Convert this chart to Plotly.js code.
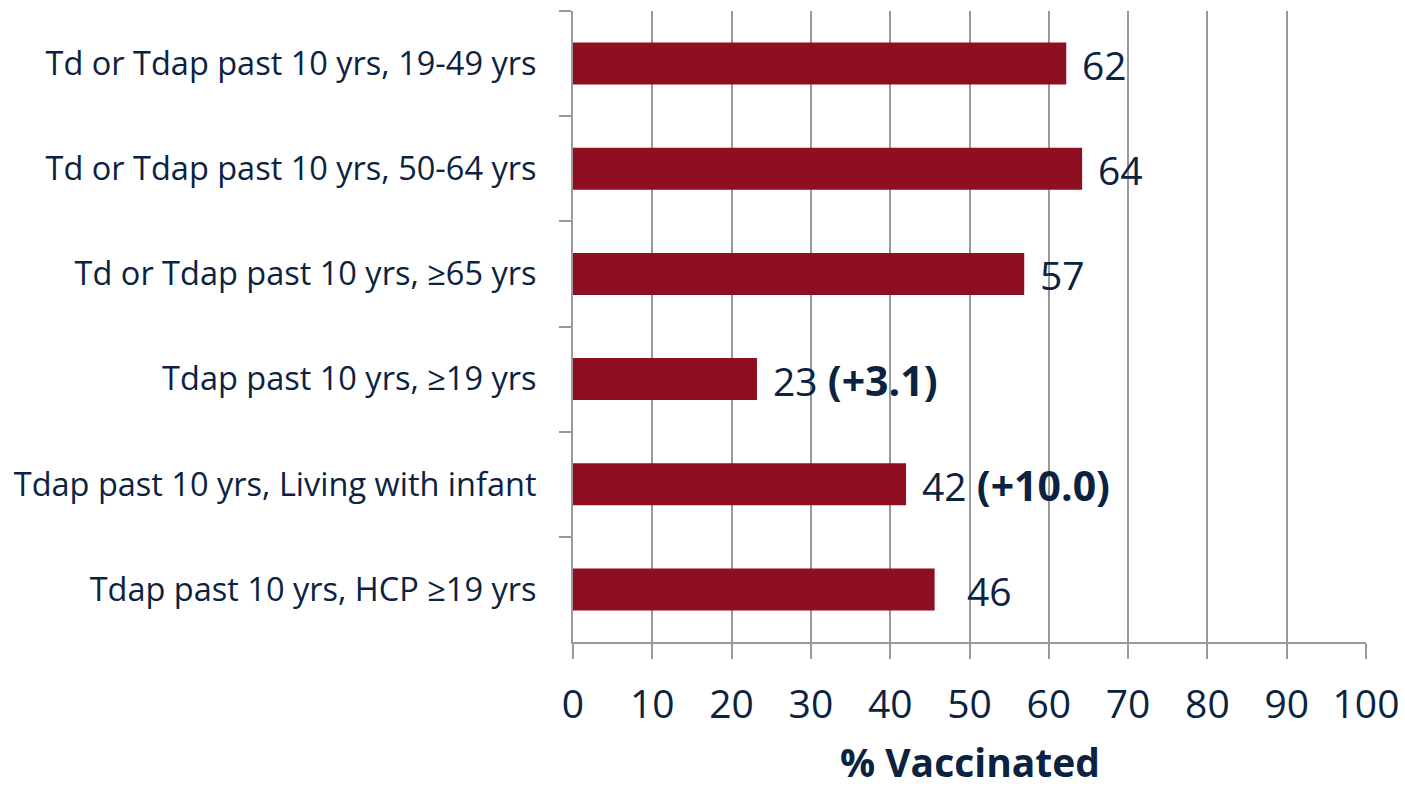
<!DOCTYPE html>
<html>
<head>
<meta charset="utf-8">
<script src="https://cdn.plot.ly/plotly-3.0.1.min.js"></script>
<style>html,body{margin:0;padding:0;background:#fff;}#chart{width:1405px;height:789px;}</style>
</head>
<body>
<div id="chart"></div>
<script>
const categories = [
  "Td or Tdap past 10 yrs, 19-49 yrs",
  "Td or Tdap past 10 yrs, 50-64 yrs",
  "Td or Tdap past 10 yrs, ≥65 yrs",
  "Tdap past 10 yrs, ≥19 yrs",
  "Tdap past 10 yrs, Living with infant",
  "Tdap past 10 yrs, HCP ≥19 yrs"
];
const values = [62.2, 64.2, 56.9, 23.2, 42, 45.6];
const valueLabels = ["62", "64", "57", "23", "42", "46"];
const changes = ["", "", "", "+3.1", "+10.0", ""];
const xTicks = [0, 10, 20, 30, 40, 50, 60, 70, 80, 90, 100];
const xTitle = "% Vaccinated";

const navy = "#0b2341";
const barColor = "#8e0f22";
const gridColor = "#999999";
const fontFam = "Open Sans, sans-serif";

const labelShift = [14, 14, 14, 14, 14, 30];

const annotations = categories.map((c, i) => ({
  x: values[i], y: c, xref: "x", yref: "y",
  xanchor: "left", yanchor: "middle", xshift: labelShift[i], yshift: -1,
  showarrow: false,
  text: valueLabels[i] + (changes[i] ? " <b><span style=\"font-size:41px\">(" + changes[i] + ")</span></b>" : ""),
  font: {family: fontFam, size: 39, color: navy}
}));

annotations.push({
  x: 0.5, y: 0, xref: "paper", yref: "paper",
  xanchor: "center", yanchor: "bottom", yshift: -147, borderpad: 0,
  showarrow: false,
  text: "<b>" + xTitle + "</b>",
  font: {family: fontFam, size: 39, color: navy}
});

const trace = {
  type: "bar", orientation: "h",
  x: values, y: categories,
  width: 0.4,
  marker: {color: barColor},
  hoverinfo: "none"
};

const layout = {
  width: 1405, height: 789,
  margin: {l: 573, r: 39, t: 11, b: 147},
  paper_bgcolor: "#fff", plot_bgcolor: "#fff",
  showlegend: false,
  font: {family: fontFam, color: navy},
  xaxis: {
    range: [0, 100],
    tickvals: xTicks,
    ticktext: xTicks.map(String),
    showgrid: true, gridcolor: gridColor, gridwidth: 2,
    zeroline: false,
    showline: true, linecolor: gridColor, linewidth: 2,
    ticks: "outside", ticklen: 15, tickcolor: gridColor, tickwidth: 2,
    ticklabelstandoff: 12,
    tickfont: {family: fontFam, size: 39, color: navy},
    fixedrange: true
  },
  yaxis: {
    type: "category",
    autorange: "reversed",
    tickson: "boundaries",
    showgrid: false, zeroline: false,
    showline: true, linecolor: gridColor, linewidth: 2,
    ticks: "outside", ticklen: 12, tickcolor: gridColor, tickwidth: 2,
    ticklabelstandoff: 28,
    tickfont: {family: fontFam, size: 32.5, color: navy},
    fixedrange: true
  },
  annotations: annotations
};

Plotly.newPlot("chart", [trace], layout, {displayModeBar: false, staticPlot: true});
</script>
</body>
</html>
